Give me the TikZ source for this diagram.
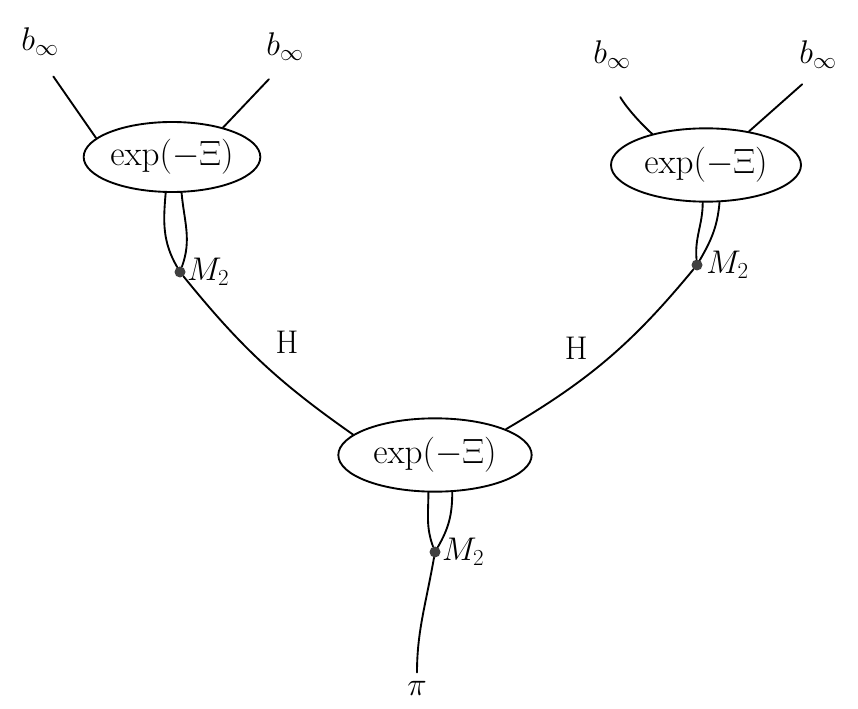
\RequirePackage{fix-cm}
\documentclass[tikz,border=0pt]{standalone}
\usepackage{amsmath,amssymb}
\usepackage{tikz}
\usetikzlibrary{shapes.geometric,positioning}

\begin{document}
\begin{tikzpicture}[
    x=0.03cm, y=-0.03cm,
    blob/.style={ellipse, draw, line width=1.6pt, inner sep=0pt, font=\fontsize{30}{36}\selectfont},
    leg/.style={line width=1.6pt, line cap=round},
    vtx/.style={circle, fill=black!75, inner sep=0pt, minimum size=0.33cm},
    lab/.style={font=\fontsize{28}{32}\selectfont, inner sep=1pt}
]
\useasboundingbox (0,0) rectangle (858,709);

% Vertices
\node[blob, minimum width=5.3cm, minimum height=2.1cm] (tl) at (172,157) {$\exp(-\Xi)$};
\node[blob, minimum width=5.7cm, minimum height=2.2cm] (tr) at (706,165) {$\exp(-\Xi)$};
\node[blob, minimum width=5.8cm, minimum height=2.2cm] (bot) at (435,455) {$\exp(-\Xi)$};

% Leaves
\node[lab] (tla) at (40,42) {$b_\infty$};
\node[lab] (tlb) at (285,47) {$b_\infty$};
\node[lab] (tra) at (612,55) {$b_\infty$};
\node[lab] (trb) at (818,55) {$b_\infty$};
\node[lab] (pi) at (417,688) {$\pi$};

\draw[leg, shorten <=20pt] (tla.south) -- (tl.166);
\draw[leg, shorten <=20pt] (tlb.south) -- (tl.30);
\draw[leg, shorten <=24pt] (tra.south) to[bend right=15] (tr.150);
\draw[leg, shorten <=18pt] (trb.south) -- (tr.38);

% Loops with M_2
\node[vtx] (tlm) at (180,272) {};
\node[lab, right=0pt of tlm] (tlml) {$M_2$};
\draw[leg] (tl.-100) to[out=-95, in=120] (tlm);
\draw[leg] (tl.-75) to[out=-85, in=70] (tlm);

\node[vtx] (trm) at (697,265) {};
\node[lab, right=2pt of trm] (trml) {$M_2$};
\draw[leg] (tr.-95) to[out=-90, in=95] (trm);
\draw[leg] (tr.-70) to[out=-95, in=60] (trm);

\node[vtx] (bm) at (435,552) {};
\node[lab, right=0pt of bm] (bml) {$M_2$};
\draw[leg] (bot.-100) to[out=-90, in=110] (bm);
\draw[leg] (bot.-65) to[out=-90, in=60] (bm);

% Edges H
\draw[leg] (tlm) to[bend right=8] node[lab, pos=0.5, above right=6pt and 10pt] {H} (bot.166);
\draw[leg] (trm) to[bend left=10] node[lab, pos=0.55, above left=4pt and 8pt] {H} (bot.20);
\draw[leg, shorten >=6pt] (bm) to[out=-100, in=90] (pi.north);
\end{tikzpicture}
\end{document}
